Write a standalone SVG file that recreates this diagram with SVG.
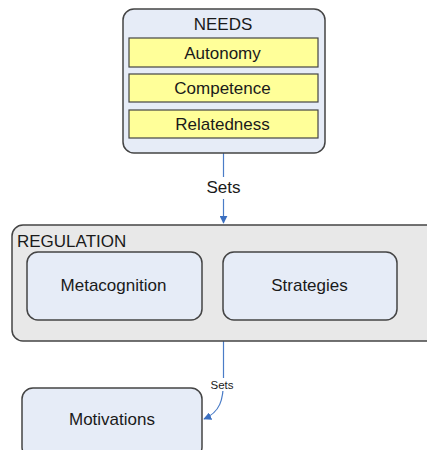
<svg xmlns="http://www.w3.org/2000/svg" width="427" height="450" viewBox="0 0 427 450">
<style>
text{font-family:"Liberation Sans",Arial,sans-serif;fill:#1a1a1a;}
.cont{fill:#e6ecf7;stroke:#444;stroke-width:1.5;}
.grp{fill:#e8e8e8;stroke:#444;stroke-width:1.5;}
.item{fill:#ffff99;stroke:#444;stroke-width:1.2;}
.lbl{font-size:17px;text-anchor:middle;}
.edge{fill:none;stroke:#4a7cc7;stroke-width:1.2;}
</style>
<defs>
<marker id="arr" viewBox="0 0 10 10" refX="9" refY="5" markerWidth="8" markerHeight="8" markerUnits="userSpaceOnUse" orient="auto">
<path d="M0,0 L10,5 L0,10 z" fill="#3b6fc0"/>
</marker>
</defs>
<g id="edges">
<path class="edge" d="M223.5,153 V177 M223.5,199 V223" marker-end="url(#arr)"/>
<text x="223.5" y="193" font-size="17" text-anchor="middle">Sets</text>
<path class="edge" d="M223.5,341 V380 C223.5,400 220,412 204,419" marker-end="url(#arr)"/>
<rect x="209" y="378" width="27" height="13" fill="#fff"/>
<text x="222" y="388.5" font-size="11.5" text-anchor="middle">Sets</text>
</g>
<g id="needs">
<rect class="cont" x="123" y="9" width="202" height="144" rx="11"/>
<text class="lbl" x="223" y="29.5">NEEDS</text>
</g>
<g id="autonomy">
<rect class="item" x="129" y="38" width="189" height="29"/>
<text class="lbl" x="222.5" y="58.5">Autonomy</text>
</g>
<g id="competence">
<rect class="item" x="129" y="74" width="189" height="28"/>
<text class="lbl" x="222.5" y="93.5">Competence</text>
</g>
<g id="relatedness">
<rect class="item" x="129" y="110" width="189" height="28"/>
<text class="lbl" x="222.5" y="129.5">Relatedness</text>
</g>
<g id="regulation">
<rect class="grp" x="12" y="225" width="426" height="116" rx="11"/>
<text x="17" y="247" font-size="17">REGULATION</text>
</g>
<g id="metacognition">
<rect class="cont" x="27" y="252" width="175" height="68" rx="11"/>
<text class="lbl" x="113.5" y="291">Metacognition</text>
</g>
<g id="strategies">
<rect class="cont" x="223" y="252" width="174" height="68" rx="11"/>
<text class="lbl" x="309.5" y="291">Strategies</text>
</g>
<g id="motivations">
<rect class="cont" x="22" y="388" width="180" height="70" rx="11"/>
<text class="lbl" x="112" y="425">Motivations</text>
</g>
</svg>
